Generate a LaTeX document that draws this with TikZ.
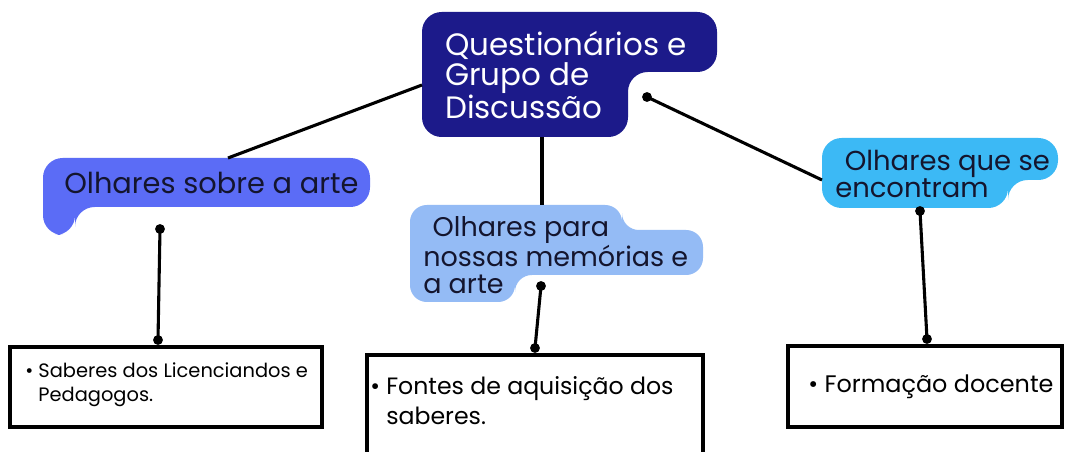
\documentclass[tikz,border=0pt]{standalone}
\usepackage{fontspec}
\setmainfont{Poppins}
\definecolor{navyq}{HTML}{1C1A8A}
\definecolor{bluel}{HTML}{5B6CF6}
\definecolor{bluem}{HTML}{94BBF5}
\definecolor{bluer}{HTML}{3CB9F5}
\definecolor{inkq}{HTML}{14152E}
\tikzset{
    link/.style={line width=2.2pt, black},
    knob/.style={circle, fill=black, inner sep=0pt, minimum size=7pt},
    topicbox/.style={draw=black, line width=2.3pt, inner sep=0pt},
    bubbletext/.style={align=left, inner sep=0pt, text=inkq},
    itemtext/.style={align=left, inner sep=0pt, text=black}
}
\begin{document}
\begin{tikzpicture}[x=0.025cm, y=-0.025cm]
        \clip (0,0) rectangle (1065,452);
        \fill[white] (0,0) rectangle (1065,452);

        % balloons
        \fill[navyq, rounded corners=14] (422,12) -- (717,12) -- (717,72) -- (628,72) -- (628,137) -- (422,137) -- cycle;
        \fill[bluel, rounded corners=14] (43,158) -- (370,158) -- (370,207) -- (75,207) -- (75,235) -- (43,235) -- cycle;
        \fill[bluem, rounded corners=12] (410,205) -- (622,205) -- (622,230) -- (703,230) -- (703,275) -- (515,275) -- (515,302) -- (410,302) -- cycle;
        \fill[bluer, rounded corners=14] (822,138) -- (1058,138) -- (1058,180) -- (1008,180) -- (1008,208) -- (822,208) -- cycle;

        \node[bubbletext, text=white, anchor=west, font=\fontsize{22}{21.3}\selectfont] (quest) at (445,75) {Questionários e\\Grupo de\\Discussão};
        \node[bubbletext, anchor=west, font=\fontsize{20.5}{22}\selectfont] (arte) at (64,183) {Olhares sobre a arte};
        \node[bubbletext, anchor=west, font=\fontsize{19.2}{19.2}\selectfont] (memo) at (423,255) {\hspace*{0.35em}Olhares para\\nossas memórias e\\a arte};
        \node[bubbletext, anchor=west, font=\fontsize{19.5}{19.2}\selectfont] (encontro) at (835,174) {\hspace*{0.35em}Olhares que se\\encontram};

        % boxes
        \draw[topicbox] (10,347) rectangle (322,427);
        \draw[topicbox] (367,355) rectangle (703,470);
        \draw[topicbox] (788,346) rectangle (1062,427);
        \node[itemtext, anchor=west, font=\fontsize{13.8}{17}\selectfont] (saberes) at (25,385) {\textbullet\ Saberes dos Licenciandos e\\\phantom{\textbullet\ }Pedagogos.};
        \node[itemtext, anchor=west, font=\fontsize{16.8}{21.3}\selectfont] (fontes) at (370,401) {\textbullet\ Fontes de aquisição dos\\\phantom{\textbullet\ }saberes.};
        \node[itemtext, anchor=west, font=\fontsize{17}{19}\selectfont] (formacao) at (808,387) {\textbullet\ Formação docente};

        % connectors
        \coordinate (quest-w) at (422,85);
        \coordinate (quest-s) at (542,137);
        \node[knob] (quest-e) at (647,97) {};
        \coordinate (arte-n) at (228,158);
        \coordinate (memo-n) at (542,205);
        \coordinate (encontro-w) at (822,180);
        \node[knob] (arte-s) at (160,229) {};
        \node[knob] (memo-s) at (541,286) {};
        \node[knob] (encontro-s) at (920,211) {};
        \node[knob] (saberes-n) at (158,340) {};
        \node[knob] (fontes-n) at (535,348) {};
        \node[knob] (formacao-n) at (927,339) {};

        \draw[link] (arte-n) -- (quest-w);
        \draw[link] (quest-s) -- (memo-n);
        \draw[link] (quest-e.center) -- (encontro-w);
        \draw[link] (arte-s.center) -- (saberes-n.center);
        \draw[link] (memo-s.center) -- (fontes-n.center);
        \draw[link] (encontro-s.center) -- (formacao-n.center);
    \end{tikzpicture}
\end{document}
